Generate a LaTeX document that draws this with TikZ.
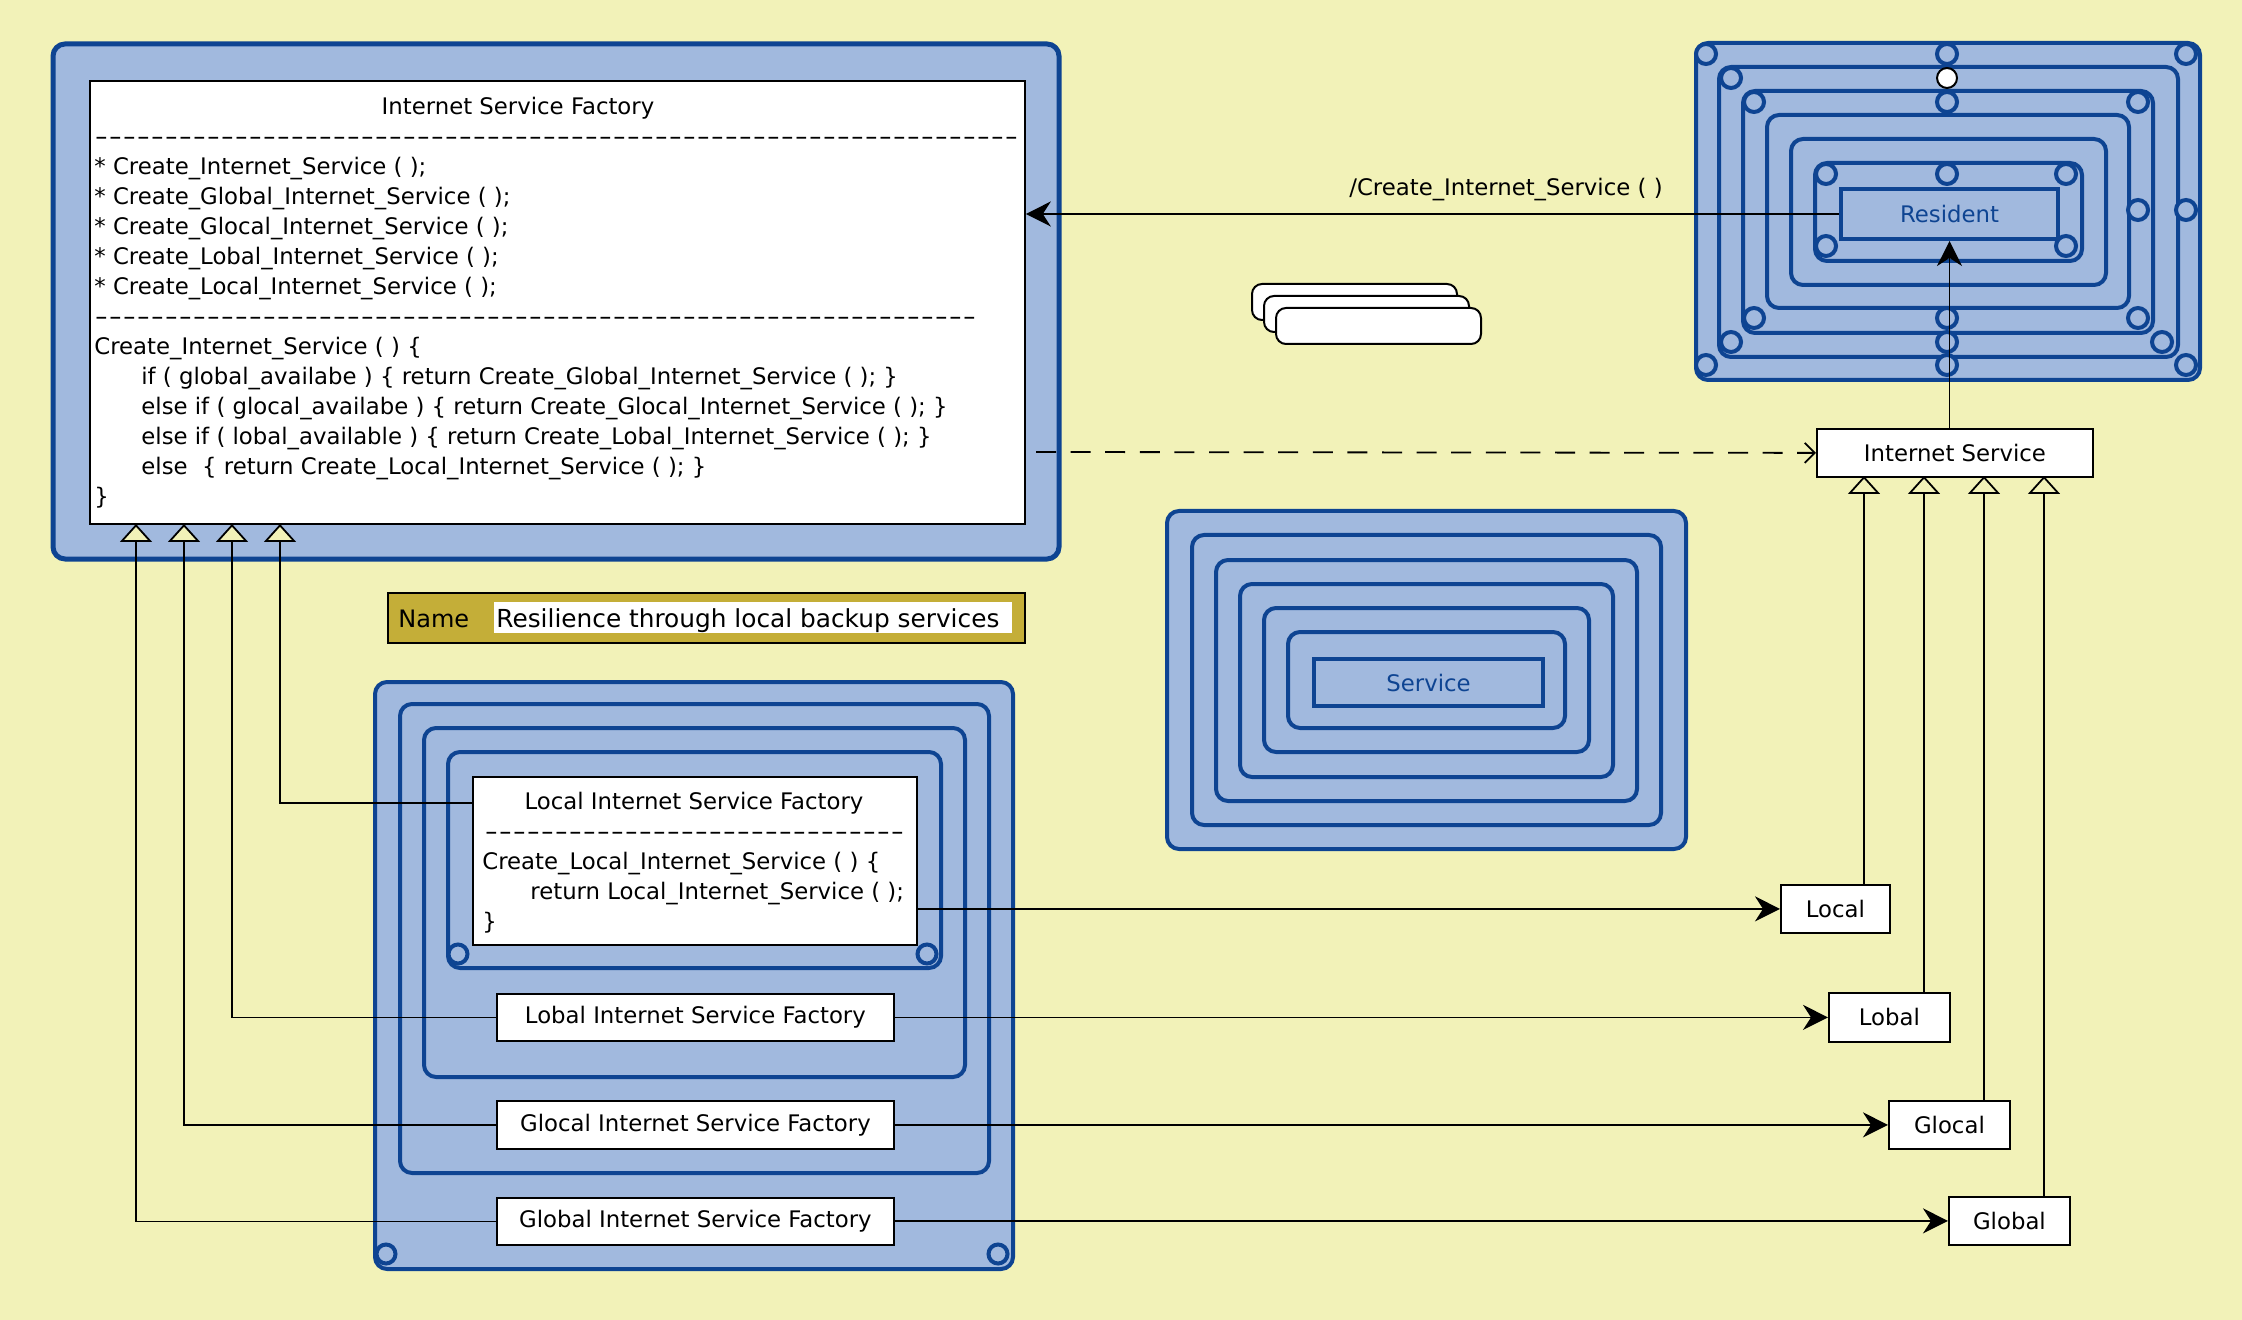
\documentclass[tikz,border=0pt]{standalone}
\usepackage{fontspec}
\setmainfont{DejaVu Sans}
\usetikzlibrary{arrows.meta}
\definecolor{bgy}{RGB}{242,242,184}
\definecolor{ltblue}{RGB}{161,185,222}
\definecolor{dkblue}{RGB}{14,68,146}
\definecolor{gold}{RGB}{196,174,56}
\newcount\hcnt
\newcommand\hyrow[1]{\hcnt=0\relax\loop\ifnum\hcnt<#1\relax\makebox[7pt][c]{\scalebox{1.6}[1]{-}}\advance\hcnt by 1\relax\repeat}
\tikzset{
  brect/.style={draw=dkblue, line width=2pt, fill=ltblue, rounded corners=6pt},
  bsq/.style={draw=dkblue, line width=2pt, fill=ltblue},
  circst/.style={draw=dkblue, line width=2pt, fill=ltblue},
  wbox/.style={draw=black, line width=0.9pt, fill=white, inner sep=0pt, anchor=north west},
  txt/.style={inner sep=0pt, anchor=base west},
  conn/.style={draw=black, line width=0.9pt},
  sarr/.style={conn, -{Stealth[length=12.5pt, width=12.5pt, inset=4pt]}},
  inh/.style={conn, -{Triangle[length=9pt, width=16pt, fill=bgy, line width=0.9pt]}},
  darr/.style={conn, dash pattern=on 10pt off 7.3pt, -{Straight Barb[length=5pt, width=10pt, line width=0.9pt]}},
  doc/.style={draw=black, line width=1pt, fill=white, rounded corners=5pt},
}
\begin{document}
\begin{tikzpicture}[x=0.5pt, y=-0.5pt, font=\fontsize{11.4pt}{15pt}\selectfont]
\useasboundingbox (0,0) rectangle (2242,1320);
\fill[bgy] (0,0) rectangle (2242,1320);

% ---------- top-left factory ----------
\draw[draw=dkblue, line width=2.5pt, fill=ltblue, rounded corners=6pt] (53,44) rectangle (1059,559);
\node[wbox, minimum width=467.5pt, minimum height=221.5pt] (fwhite) at (89,80) {};
\node[inner sep=0pt, anchor=base] (ftitle) at (518,115) {Internet Service Factory};
\node[txt] (fd1) at (94,145) {\hyrow{66}};
\node[txt] (f1) at (94,175) {* Create\_Internet\_Service ( );};
\node[txt] (f2) at (94,205) {* Create\_Global\_Internet\_Service ( );};
\node[txt] (f3) at (94,235) {* Create\_Glocal\_Internet\_Service ( );};
\node[txt] (f4) at (94,265) {* Create\_Lobal\_Internet\_Service ( );};
\node[txt] (f5) at (94,295) {* Create\_Local\_Internet\_Service ( );};
\node[txt] (fd2) at (94,325) {\hyrow{63}};
\node[txt] (f6) at (94,355) {Create\_Internet\_Service ( ) \{};
\node[txt] (f7) at (141,385) {if ( global\_availabe ) \{ return Create\_Global\_Internet\_Service ( ); \}};
\node[txt] (f8) at (141,415) {else if ( glocal\_availabe ) \{ return Create\_Glocal\_Internet\_Service ( ); \}};
\node[txt] (f9) at (141,445) {else if ( lobal\_available ) \{ return Create\_Lobal\_Internet\_Service ( ); \}};
\node[txt] (f10) at (141,475) {else\ \ \{ return Create\_Local\_Internet\_Service ( ); \}};
\node[txt] (f11) at (94,505) {\}};
\coordinate (tri1) at (136,524);
\coordinate (tri2) at (184,524);
\coordinate (tri3) at (232,524);
\coordinate (tri4) at (280,524);

% ---------- name box ----------
\draw[draw=black, line width=1pt, fill=gold] (388,593) rectangle (1025,643);
\fill[white] (494,602) rectangle (1012,633);
\node[inner sep=0pt, anchor=base west, font=\fontsize{12pt}{14pt}\selectfont] (nm) at (398,627) {Name};
\node[inner sep=0pt, anchor=base west, font=\fontsize{12.4pt}{14pt}\selectfont] (nmv) at (496,627) {Resilience through local backup services};

% ---------- bottom factory container ----------
\draw[brect] (375,682) rectangle (1013,1269);
\draw[brect] (400,704) rectangle (989,1173);
\draw[brect] (424,728) rectangle (965,1077);
\draw[brect] (448,752) rectangle (941,968);
\draw[circst] (386,1254) circle[radius=9.5];
\draw[circst] (998,1254) circle[radius=9.5];
\draw[circst] (458,954) circle[radius=9.5];
\draw[circst] (927,954) circle[radius=9.5];
\node[wbox, minimum width=222pt, minimum height=84pt] (lif) at (472,776) {};
\node[inner sep=0pt, anchor=base] (lt1) at (694,809) {Local Internet Service Factory};
\node[txt] (lt2) at (484,839) {\hyrow{30}};
\node[txt] (lt3) at (482,869) {Create\_Local\_Internet\_Service ( ) \{};
\node[txt] (lt4) at (530,899) {return Local\_Internet\_Service ( );};
\node[txt] (lt5) at (482,929) {\}};
\node[wbox, minimum width=198.5pt, minimum height=23.5pt] (lobf) at (496,993) {};
\node (lobft) at (lobf.center) {Lobal Internet Service Factory};
\node[wbox, minimum width=198.5pt, minimum height=24pt] (glof) at (496,1100) {};
\node (gloft) at (glof.center) {Glocal Internet Service Factory};
\node[wbox, minimum width=198.5pt, minimum height=23.5pt] (gblf) at (496,1197) {};
\node (gblft) at (gblf.center) {Global Internet Service Factory};

% ---------- Service component ----------
\draw[brect] (1167,511) rectangle (1686,849);
\draw[brect] (1192,535) rectangle (1661,825);
\draw[brect] (1216,560) rectangle (1637,801);
\draw[brect] (1240,584) rectangle (1613,777);
\draw[brect] (1264,608) rectangle (1589,752);
\draw[brect] (1288,632) rectangle (1565,728);
\node[bsq, minimum width=114.5pt, minimum height=23.5pt, anchor=north west, inner sep=0pt] (svc) at (1312,657) {};
\node[text=dkblue] (svct) at (svc.center) {Service};

% ---------- Resident component ----------
\draw[brect] (1696,43) rectangle (2200,380);
\draw[brect] (1719,67) rectangle (2178,357);
\draw[brect] (1743,91) rectangle (2153,333);
\draw[brect] (1767,115) rectangle (2129,308);
\draw[brect] (1791,139) rectangle (2106,285);
\draw[brect] (1815,163) rectangle (2082,261);
\foreach \p in {(1706,54),(1947,54),(2186,54),(2186,210),(1706,365),(1947,365),(2186,365),
                (1731,78),(1731,342),(1947,342),(2162,342),
                (1754,102),(1947,102),(2138,102),(2138,210),(1754,318),(1947,318),(2138,318),
                (1826,174),(1947,174),(2066,174),(1826,246),(2066,246)}
  \draw[circst] \p circle[radius=10];
\draw[draw=black, line width=1pt, fill=white] (1947,78) circle[radius=10];
\node[bsq, minimum width=108.5pt, minimum height=25pt, anchor=north west, inner sep=0pt] (res) at (1839,187) {};
\node[text=dkblue] (rest) at (res.center) {Resident};

% ---------- multi-document stack ----------
\draw[doc] (1252,284) rectangle (1457,320);
\draw[doc] (1264,296) rectangle (1469,332);
\draw[doc] (1276,308) rectangle (1481,344);

% ---------- right-hand boxes ----------
\node[wbox, minimum width=138pt, minimum height=24pt] (isvc) at (1816,428) {};
\node (isvct) at (isvc.center) {Internet Service};
\node[wbox, minimum width=54.5pt, minimum height=24pt] (loc) at (1780,884) {};
\node (loct) at (loc.center) {Local};
\node[wbox, minimum width=60.5pt, minimum height=24.5pt] (lob) at (1828,992) {};
\node (lobt) at (lob.center) {Lobal};
\node[wbox, minimum width=60.5pt, minimum height=24pt] (glo) at (1888,1100) {};
\node (glot) at (glo.center) {Glocal};
\node[wbox, minimum width=60.5pt, minimum height=24pt] (gbl) at (1948,1196) {};
\node (gblt) at (gbl.center) {Global};
\coordinate (rtri1) at (1864,476);
\coordinate (rtri2) at (1924,476);
\coordinate (rtri3) at (1984,476);
\coordinate (rtri4) at (2044,476);

% ---------- connectors ----------
\draw[sarr] (res.west) -- (res.west -| fwhite.east);
\node[inner sep=0pt] (lbl) at (1506,190) {/Create\_Internet\_Service ( )};
\draw[sarr] (res.south |- isvc.north) -- (res.south);
\coordinate (dstart) at (1036,452);
\draw[darr] (dstart) -- (isvc.west);

\draw[sarr] (loc.west -| lif.east) -- (loc.west);
\draw[sarr] (lobf.east) -- (lob.west);
\draw[sarr] (glof.east) -- (glo.west);
\draw[sarr] (gblf.east |- gbl.west) -- (gbl.west);

\draw[inh] (lt1 -| lif.west) -| (tri4);
\draw[inh] (lobf.west) -| (tri3);
\draw[inh] (glof.west) -| (tri2);
\draw[inh] (gblf.west) -| (tri1);

\draw[inh] (rtri1 |- loc.north) -- (rtri1);
\draw[inh] (rtri2 |- lob.north) -- (rtri2);
\draw[inh] (rtri3 |- glo.north) -- (rtri3);
\draw[inh] (rtri4 |- gbl.north) -- (rtri4);
\end{tikzpicture}
\end{document}
